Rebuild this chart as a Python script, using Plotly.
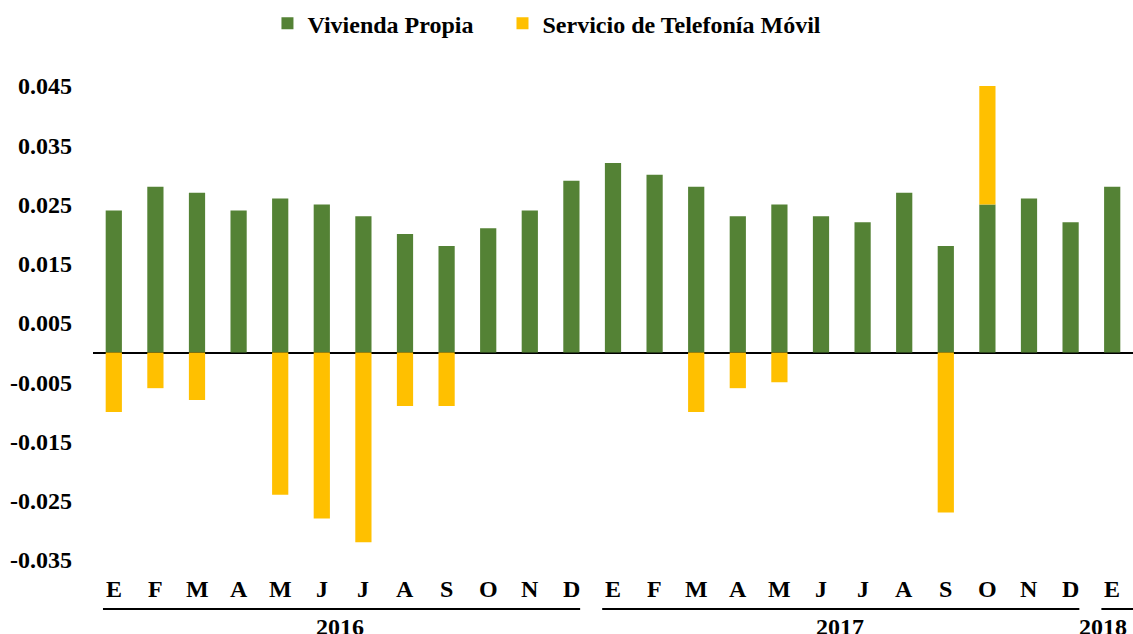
import plotly.graph_objects as go

months = ["E", "F", "M", "A", "M", "J", "J", "A", "S", "O", "N", "D",
          "E", "F", "M", "A", "M", "J", "J", "A", "S", "O", "N", "D", "E"]
vivienda = [0.024, 0.028, 0.027, 0.024, 0.026, 0.025, 0.023, 0.020, 0.018, 0.021, 0.024, 0.029,
            0.032, 0.030, 0.028, 0.023, 0.025, 0.023, 0.022, 0.027, 0.018, 0.025, 0.026, 0.022, 0.028]
telefonia = [-0.010, -0.006, -0.008, 0.0, -0.024, -0.028, -0.032, -0.009, -0.009, 0.0, 0.0, 0.0,
             0.0, 0.0, -0.010, -0.006, -0.005, 0.0, 0.0, 0.0, -0.027, 0.020, 0.0, 0.0, 0.0]
years = ["2016", "2017", "2018"]
year_spans = [(0, 11), (12, 23), (24, 24)]
ytick_vals = [0.045, 0.035, 0.025, 0.015, 0.005, -0.005, -0.015, -0.025, -0.035]

FONT = "Liberation Serif"
FS = 24
GREEN = "#548235"
YELLOW = "#FFC000"

x = list(range(len(months)))

fig = go.Figure()
fig.add_trace(go.Bar(x=x, y=vivienda, name="<b>Vivienda Propia</b>" + "&nbsp;" * 4,
                     marker_color=GREEN, width=0.39, marker_line_width=0))
fig.add_trace(go.Bar(x=x, y=telefonia, name="<b>Servicio de Telefonía Móvil</b>",
                     marker_color=YELLOW, width=0.39, marker_line_width=0))

annotations = []
for i, m in enumerate(months):
    annotations.append(dict(x=i, y=-0.028, xref="x", yref="paper", text=f"<b>{m}</b>",
                            showarrow=False, xanchor="center", yanchor="middle",
                            font=dict(family=FONT, size=FS, color="black")))

shapes = []
year_centers = [5.44, 17.46, 23.78]
for (a, b), yr, c in zip(year_spans, years, year_centers):
    x0 = a - 0.26
    x1 = b + 0.5 if b == len(months) - 1 else b + 0.21
    shapes.append(dict(type="line", xref="x", yref="paper", x0=x0, x1=x1, y0=-0.0687, y1=-0.0687,
                       line=dict(color="black", width=2)))
    annotations.append(dict(x=c, y=-0.106, xref="x", yref="paper", text=f"<b>{yr}</b>",
                            showarrow=False, xanchor="center", yanchor="middle",
                            font=dict(family=FONT, size=FS, color="black")))

fig.update_layout(
    width=1133, height=634,
    margin=dict(l=93, r=0, t=80, b=59),
    barmode="relative",
    plot_bgcolor="white", paper_bgcolor="white",
    font=dict(family=FONT, size=FS, color="black"),
    showlegend=True,
    legend=dict(orientation="h", x=0.4365, xanchor="center", y=1.114, yanchor="middle",
                font=dict(family=FONT, size=FS, color="black"), itemwidth=30,
                traceorder="normal"),
    xaxis=dict(range=[-0.5, len(months) - 0.5], showticklabels=False, showgrid=False,
               zeroline=False, showline=False, ticks=""),
    yaxis=dict(range=[-0.03753, 0.04601], tickvals=ytick_vals,
               ticktext=[f"<b>{v:.3f}</b>" for v in ytick_vals],
               showgrid=False, zeroline=True, zerolinecolor="black", zerolinewidth=2,
               showline=False, ticks="", ticklabelstandoff=20,
               tickfont=dict(family=FONT, size=FS, color="black")),
    annotations=annotations,
    shapes=shapes,
)

fig.write_html("out.html", config={"displayModeBar": False},
               post_script="document.body.style.margin='0';document.body.style.overflow='hidden';")
